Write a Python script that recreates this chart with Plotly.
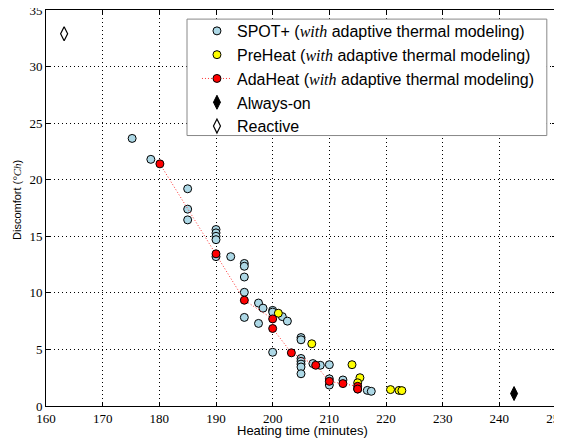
import plotly.graph_objects as go

# ---- data ----
spot_x = [175.2, 178.5, 185.0, 185.0, 185.0, 190.0, 190.0, 190.0, 190.0, 190.0,
          192.6, 195.0, 195.0, 195.0, 195.0, 197.5, 198.3, 195.0, 197.5, 200.0,
          200.0, 201.7, 202.6, 205.0, 205.0, 200.0, 205.0, 205.0, 205.0, 205.0,
          205.0, 207.1, 208.4, 210.0, 210.0, 210.0, 212.4, 215.0, 216.7, 217.4]
spot_y = [23.65, 21.8, 19.2, 17.4, 16.45, 15.6, 15.3, 15.0, 14.7, 13.2,
          13.2, 12.6, 12.35, 11.4, 10.05, 9.1, 8.65, 7.83, 7.3, 8.45,
          8.3, 7.9, 7.5, 6.05, 5.85, 4.75, 4.2, 3.95, 3.7, 3.45,
          2.85, 3.75, 3.6, 3.65, 2.4, 1.85, 2.3, 1.5, 1.38, 1.3]

preheat_x = [201.0, 206.9, 214.0, 215.4, 215.0, 220.8, 222.3, 222.8]
preheat_y = [8.2, 5.5, 3.65, 2.5, 2.05, 1.45, 1.38, 1.36]

ada_x = [180.1, 190.0, 195.0, 200.0, 200.0, 203.3, 207.6, 210.0, 212.4, 215.0, 215.0]
ada_y = [21.4, 13.45, 9.35, 7.7, 6.85, 4.7, 3.6, 2.18, 1.98, 1.74, 1.5]

alwayson_x = [242.6]
alwayson_y = [1.1]

reactive_x = [163.2]
reactive_y = [32.9]

x_ticks = list(range(160, 251, 10))
y_ticks = list(range(0, 36, 5))

SERIF = "Liberation Serif"
SANS = "Liberation Sans"
W = "<span style=\"font-family:'Liberation Serif'\"><i>with</i></span>"

fig = go.Figure()

fig.add_trace(go.Scatter(
    x=spot_x, y=spot_y, mode="markers", name=f"SPOT+ ({W} adaptive thermal modeling)",
    legendgroup="a",
    marker=dict(symbol="circle", size=8, color="#ADD8E6", line=dict(color="black", width=1))))
fig.add_trace(go.Scatter(
    x=preheat_x, y=preheat_y, mode="markers", name=f"PreHeat ({W} adaptive thermal modeling)",
    legendgroup="b",
    marker=dict(symbol="circle", size=8, color="#FFFF00", line=dict(color="black", width=1))))
fig.add_trace(go.Scatter(
    x=ada_x, y=ada_y, mode="lines+markers", name=f"AdaHeat ({W} adaptive thermal modeling)",
    legendgroup="c",
    line=dict(color="#FF3333", width=1, dash="1px,2px"),
    marker=dict(symbol="circle", size=8, color="#FF0000", line=dict(color="black", width=1))))
fig.add_trace(go.Scatter(
    x=alwayson_x, y=alwayson_y, mode="markers", name="Always-on",
    legendgroup="d",
    marker=dict(symbol="diamond-tall", size=10, color="black", line=dict(color="black", width=1))))
fig.add_trace(go.Scatter(
    x=reactive_x, y=reactive_y, mode="markers", name="Reactive",
    legendgroup="e",
    marker=dict(symbol="diamond-tall-open", size=10, color="black", line=dict(color="black", width=1.2))))

axis_common = dict(
    showgrid=True, gridcolor="black", griddash="1px,3px", gridwidth=1,
    zeroline=False, showline=True, linecolor="black", linewidth=1,
    mirror="allticks", ticks="inside", ticklen=4, tickcolor="black",
    tickfont=dict(family=SERIF, size=13, color="black"),
    automargin=False, ticklabeloverflow="allow",
)

fig.update_xaxes(range=[160, 250], tickvals=x_ticks, ticktext=[str(v) for v in x_ticks],
                 **axis_common)
fig.update_yaxes(range=[0, 35], tickvals=y_ticks, ticktext=[str(v) for v in y_ticks],
                 **axis_common)

# axis titles placed as annotations so their position/size match the reference
fig.add_annotation(text="Heating time (minutes)",
                   xref="paper", yref="paper", x=0.502, y=-0.062,
                   xanchor="center", yanchor="middle", showarrow=False,
                   font=dict(family=SANS, size=13, color="black"))
fig.add_annotation(text="Discomfort (<span style=\"font-family:'Liberation Serif'\"><i>°Ch</i></span>)",
                   xref="paper", yref="paper", x=-0.057, y=0.52,
                   xanchor="center", yanchor="middle", textangle=-90, showarrow=False,
                   font=dict(family=SANS, size=11, color="black"))

# legend frame drawn as a shape so its box can be placed freely
fig.add_shape(type="rect", xref="paper", yref="paper",
              x0=0.2765, x1=0.982, y0=0.683, y1=0.977,
              fillcolor="white", line=dict(color="#888888", width=1), layer="above")

fig.update_layout(
    width=554, height=430,
    margin=dict(l=38, r=6, t=2, b=32),
    plot_bgcolor="white", paper_bgcolor="white",
    legend=dict(x=0.296, y=0.99, xanchor="left", yanchor="top",
                bgcolor="rgba(0,0,0,0)", borderwidth=0,
                font=dict(family=SANS, size=16, color="black"),
                traceorder="grouped", tracegroupgap=0, itemwidth=30),
)

fig.write_html("out.html")
